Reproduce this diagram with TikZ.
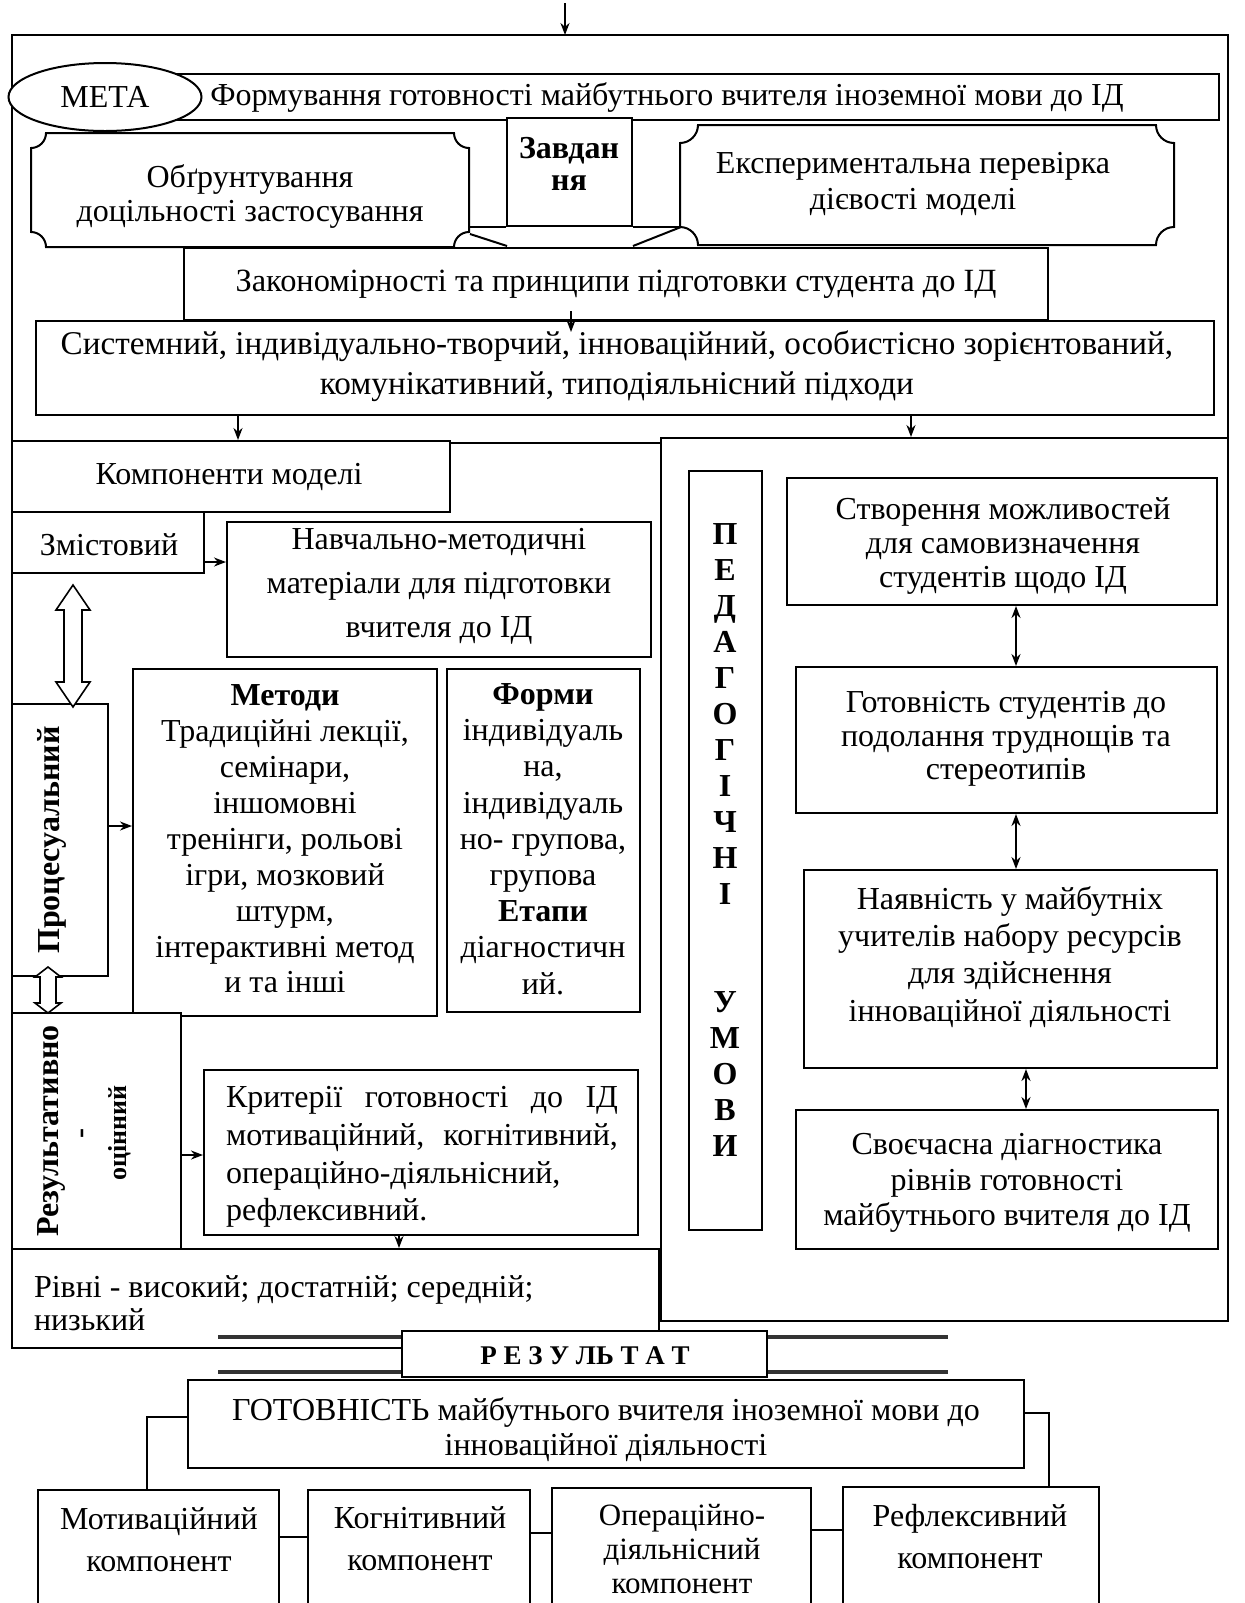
\documentclass[tikz,border=0pt]{standalone}
\usepackage{fontspec}
\setmainfont{Liberation Serif}
\usetikzlibrary{fit,calc,arrows.meta,shapes.geometric}
\newcommand\mfs{\fontsize{16}{18}\selectfont}
\newcommand\plaque[5]{%
 \draw[fill=white] ({#1+#5},#2) -- ({#3-#5},#2) .. controls ({#3-#5},{#2+0.55*#5}) and ({#3-0.55*#5},{#2+#5}) .. (#3,{#2+#5})
 -- (#3,{#4-#5}) .. controls ({#3-0.55*#5},{#4-#5}) and ({#3-#5},{#4-0.55*#5}) .. ({#3-#5},#4)
 -- ({#1+#5},#4) .. controls ({#1+#5},{#4-0.55*#5}) and ({#1+0.55*#5},{#4-#5}) .. (#1,{#4-#5})
 -- (#1,{#2+#5}) .. controls ({#1+0.55*#5},{#2+#5}) and ({#1+#5},{#2+0.55*#5}) .. ({#1+#5},#2) -- cycle;}
\begin{document}
\begin{tikzpicture}[x=0.5pt,y=-0.5pt,line width=1pt,
  ebox/.style={draw,fill=white,inner sep=0pt},
  txt/.style={inner sep=0pt,align=center,font=\mfs},
  arr/.style={-{Stealth[length=6pt,width=4.5pt]}},
  darr/.style={{Stealth[length=6pt,width=4.5pt]}-{Stealth[length=6pt,width=4.5pt]}},
  blk/.style={draw,fill=white,line width=0.8pt,line join=miter}]
\useasboundingbox (0,0) rectangle (1245,1603);
\clip (0,0) rectangle (1245,1603);
\fill[white] (0,0) rectangle (1245,1603);

% outer frame
\coordinate (fTL) at (12,35);
\coordinate (fTR) at (1228,35);
\coordinate (fBL) at (12,1348);
\coordinate (fR) at (1228,440);
\draw (fBL) -- (fTL) -- (fTR) -- (fR);
\coordinate (inA) at (565,3);
\draw[arr] (inA) -- (fTL -| inA);

% goal
\node[ebox, fit={(150,74) (1219,120)}] (goalbox) {};
\node[txt] (goaltxt) at (667,97) {Формування готовності майбутнього вчителя іноземної мови до ІД};
\node[draw,fill=white,ellipse,inner sep=0pt,minimum width=96.5pt,minimum height=34pt,font=\mfs] (meta) at (105,97) {МЕТА};

% tasks
\plaque{31}{133}{469}{247}{15}
\node[inner sep=0pt, fit={(31,133) (469,247)}] (obg) {};
\node[txt, font={\fontsize{16}{17}\selectfont}] (obgt) at (250,196) {Обґрунтування\\доцільності застосування};
\plaque{680}{125}{1174}{245}{18}
\node[inner sep=0pt, fit={(680,125) (1174,245)}] (exp) {};
\node[txt, font={\fontsize{16}{18}\selectfont}] (expt) at (913,184) {Експериментальна перевірка\\дієвості моделі};
\node[ebox, fit={(507,118) (632,226)}] (zav) {};
\node[txt, font={\bfseries\fontsize{16}{16}\selectfont}] (zavt) at (569,164) {Завдан\\ня};
\draw (zav.south west) -- (obg.east |- zav.south);
\draw (zav.south east) -- (exp.west |- zav.south);
\draw ($(obg.south east)+(0,-14)$) -- ($(zav.south west)+(1,19)$);
\draw ($(zav.south east)+(0,19)$) -- ($(exp.south west)+(2,-19)$);

\node[ebox, fit={(184,248) (1048,320)}] (zak) {};
\node[txt, font={\fontsize{16.2}{18}\selectfont}] (zakt) at (616,284) {Закономірності та принципи підготовки студента до ІД};
\node[ebox, fit={(36,321) (1214,415)}] (sys) {};
\node[txt, font={\fontsize{16.6}{20}\selectfont}] (syst) at (617,366) {Системний, індивідуально-творчий, інноваційний, особистісно зорієнтований,\\комунікативний, типодіяльнісний підходи};

% conditions
\node[ebox, fit={(661,438) (1228,1321)}] (cond) {};
\node[ebox, fit={(689,471) (762,1230)}] (ped) {};
\node[txt, font={\bfseries\fontsize{16}{18}\selectfont}] (pedt) at (725,840) {П\\Е\\Д\\А\\Г\\О\\Г\\І\\Ч\\Н\\І\\[36pt]У\\М\\О\\В\\И};
\node[ebox, fit={(787,478) (1217,605)}] (s1) {};
\node[txt, font={\fontsize{16}{17}\selectfont}] (s1t) at (1003,546) {Створення можливостей\\для самовизначення\\студентів щодо ІД};
\node[ebox, fit={(796,667) (1217,813)}] (s2) {};
\node[txt, font={\fontsize{16}{16.8}\selectfont}] (s2t) at (1006,739) {Готовність студентів до\\подолання труднощів та\\стереотипів};
\node[ebox, fit={(804,870) (1217,1068)}] (s3) {};
\node[txt, font={\fontsize{16}{18.6}\selectfont}] (s3t) at (1010,957) {Наявність у майбутніх\\учителів набору ресурсів\\для здійснення\\інноваційної діяльності};
\node[ebox, fit={(796,1110) (1218,1249)}] (s4) {};
\node[txt, font={\fontsize{16}{17.8}\selectfont}] (s4t) at (1007,1183) {Своєчасна діагностика\\рівнів готовності\\майбутнього вчителя до ІД};

% left components
\node[ebox, fit={(12,441) (450,512)}] (komp) {};
\node[txt] (kompt) at (229,477) {Компоненти моделі};
\draw ($(komp.north east)+(0,3)$) -- ($(cond.north west)+(0,6)$);
\node[ebox, fit={(12,512) (204,573)}] (zm) {};
\node[txt] (zmt) at (109,545) {Змістовий};
\node[ebox, fit={(227,522) (651,657)}] (nav) {};
\node[txt, font={\fontsize{16}{22}\selectfont}] (navt) at (439,586) {Навчально-методичні\\матеріали для підготовки\\вчителя до ІД};
\node[ebox, fit={(12,704) (108,976)}] (proc) {};
\node[txt, rotate=90, font={\bfseries\fontsize{16}{18}\selectfont}] (proct) at (52,840) {Процесуальний};
\node[ebox, fit={(133,669) (437,1016)}] (met) {};
\node[txt, font={\fontsize{16}{17.95}\selectfont}] (mett) at (285,839) {\textbf{Методи}\\Традиційні лекції,\\семінари,\\іншомовні\\тренінги, рольові\\ігри, мозковий\\штурм,\\інтерактивні метод\\и та інші};
\node[ebox, fit={(447,669) (640,1012)}] (form) {};
\node[txt, font={\fontsize{16}{18.1}\selectfont}] (formt) at (543,839) {\textbf{Форми}\\індивідуаль\\на,\\індивідуаль\\но- групова,\\групова\\\textbf{Етапи}\\діагностичн\\ий.};
\node[ebox, fit={(12,1013) (181,1250)}] (res) {};
\node[txt, rotate=90, font={\bfseries\fontsize{16}{18}\selectfont}] (rest1) at (51,1131) {Результативно};
\node[txt, rotate=90, font={\bfseries\fontsize{15}{18}\selectfont}] (resd) at (85,1133) {-};
\node[txt, rotate=90, font={\bfseries\fontsize{13}{15}\selectfont}] (rest2) at (120,1133) {оцінний};
\node[ebox, fit={(204,1070) (638,1235)}] (krit) {};
\node[txt, align=left, anchor=west, font={\fontsize{16}{18.8}\selectfont}] (kritt) at (225,1157) {\makebox[196pt][s]{Критерії готовності до ІД}\\\makebox[196pt][s]{мотиваційний, когнітивний,}\\операційно-діяльнісний,\\рефлексивний.};
\node[ebox, fit={(12,1249) (659,1348)}] (riv) {};
\node[txt, align=left, anchor=west, font={\fontsize{16}{16.5}\selectfont}] (rivt) at (33,1303) {Рівні - високий; достатній; середній;\\низький};

% block double arrows
\coordinate (d1) at (73,585);
\draw[blk] (d1) -- ++(17,25) -- ++(-8,0) -- ++(0,72) -- ++(8,0) -- ++(-17,25) -- ++(-17,-25) -- ++(8,0) -- ++(0,-72) -- ++(-8,0) -- cycle;
\coordinate (d2) at (48,967);
\draw[blk] (d2) -- ++(13,10) -- ++(-5,0) -- ++(0,26) -- ++(5,0) -- ++(-13,10) -- ++(-13,-10) -- ++(5,0) -- ++(0,-26) -- ++(-5,0) -- cycle;

% arrows
\coordinate (ax1) at (571,0);
\draw[arr] ($(zak.south -| ax1)+(0,-10)$) -- ($(sys.north -| ax1)+(0,12)$);
\coordinate (ax2) at (238,0);
\draw[arr] (sys.south -| ax2) -- (komp.north -| ax2);
\coordinate (ax3) at (911,0);
\draw[arr] (sys.south -| ax3) -- (cond.north -| ax3);
\coordinate (ay1) at (0,562);
\draw[arr] (zm.east |- ay1) -- (nav.west |- ay1);
\coordinate (ay2) at (0,826);
\draw[arr] (proc.east |- ay2) -- (met.west |- ay2);
\coordinate (ay3) at (0,1155);
\draw[arr] (res.east |- ay3) -- (krit.west |- ay3);
\coordinate (ax5) at (399,0);
\draw[arr] (krit.south -| ax5) -- (riv.north -| ax5);
\coordinate (ax4) at (1016,0);
\draw[darr] (s1.south -| ax4) -- (s2.north -| ax4);
\draw[darr] (s2.south -| ax4) -- (s3.north -| ax4);
\coordinate (ax6) at (1026,0);
\draw[darr] (s3.south -| ax6) -- (s4.north -| ax6);

% result banner
\draw[line width=1.6pt, black!80] (218,1337) -- (948,1337);
\draw[line width=1.6pt, black!80] (218,1372) -- (948,1372);
\node[ebox, fit={(402,1331) (767,1377)}] (rezb) {};
\node[txt, font={\bfseries\fontsize{13.5}{15}\selectfont}] (rezt) at (585,1356) {Р Е З У ЛЬ Т А Т};

\node[ebox, fit={(188,1380) (1024,1468)}] (got) {};
\node[txt, font={\fontsize{16}{17.5}\selectfont}] (gott) at (606,1430) {ГОТОВНІСТЬ майбутнього вчителя іноземної мови до\\інноваційної діяльності};

\node[ebox, fit={(38,1490) (279,1612)}] (b1) {};
\node[txt, font={\fontsize{16}{21}\selectfont}] (b1t) at (159,1540) {Мотиваційний\\компонент};
\node[ebox, fit={(308,1490) (530,1612)}] (b2) {};
\node[txt, font={\fontsize{16}{21}\selectfont}] (b2t) at (420,1539) {Когнітивний\\компонент};
\node[ebox, fit={(552,1488) (811,1612)}] (b3) {};
\node[txt, font={\fontsize{15.5}{17}\selectfont}] (b3t) at (682,1549) {Операційно-\\діяльнісний\\компонент};
\node[ebox, fit={(843,1487) (1099,1612)}] (b4) {};
\node[txt, font={\fontsize{16}{21}\selectfont}] (b4t) at (970,1537) {Рефлексивний\\компонент};

\coordinate (cL) at (147,0);
\draw ($(got.west)+(0,-7)$) -| (b1.north -| cL);
\coordinate (cR) at (1049,0);
\draw ($(got.east)+(0,-11)$) -| (b4.north -| cR);
\coordinate (h1) at (0,1537);
\draw (b1.east |- h1) -- (b2.west |- h1);
\coordinate (h2) at (0,1533);
\draw (b2.east |- h2) -- (b3.west |- h2);
\coordinate (h3) at (0,1530);
\draw (b3.east |- h3) -- (b4.west |- h3);
\end{tikzpicture}
\end{document}
